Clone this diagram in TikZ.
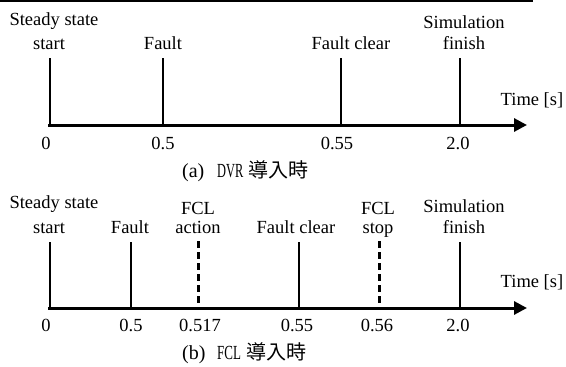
\documentclass[tikz,border=0pt]{standalone}
\usepackage{fontspec}
\setmainfont{Liberation Serif}
\newfontfamily\cjk{Noto Sans CJK JP}
\usetikzlibrary{arrows.meta}
\tikzset{
  lbl/.style={font=\fontsize{18.5}{20}\selectfont, inner sep=0pt, anchor=base},
  captext/.style={font=\fontsize{20}{22}\selectfont, inner sep=0pt, anchor=base west},
  evt/.style={line width=2pt},
  fcl/.style={line width=3pt, dash pattern=on 7pt off 4pt},
  axis/.style={line width=3pt, -{Triangle[length=13pt,width=13pt]}},
}
\begin{document}
\begin{tikzpicture}[x=1pt,y=-1pt]
\useasboundingbox (0,0) rectangle (566,367);
\draw[line width=1.2pt] (0,1) coordinate (bl) -- (533,1) coordinate (br);

% ---------- panel (a) ----------
\coordinate (aS) at (48,125);
\coordinate (aE) at (527,125);
\foreach \n/\x in {0/50,1/163,2/341,3/460}{
  \coordinate (aT\n) at (\x,58);
  \coordinate (aB\n) at (\x,125);
}
\foreach \n in {0,1,2,3}{ \draw[evt] (aT\n) -- (aB\n); }
\draw[axis] (aS) -- (aE);

\node[lbl] (aSteady) at (54,25) {Steady state};
\node[lbl] (aStart) at (49,49) {start};
\node[lbl] (aFault) at (163,49) {Fault};
\node[lbl] (aClear) at (351,49) {Fault clear};
\node[lbl] (aSim) at (464,28) {Simulation};
\node[lbl] (aFin) at (464,49) {finish};
\node[lbl] (aTime) at (532,105) {Time [s]};
\node[lbl] (at0) at (46,149) {0};
\node[lbl] (at1) at (163,149) {0.5};
\node[lbl] (at2) at (337,149) {0.55};
\node[lbl] (at3) at (458,149) {2.0};
\node[captext] (acapl) at (182,177) {(a)};
\node[captext] (acapt) at (217,177) {\scalebox{0.62}[1]{DVR}\hspace{5pt}{\cjk 導入時}};

% ---------- panel (b) ----------
\coordinate (bS) at (48,308);
\coordinate (bE) at (527,308);
\foreach \n/\x in {0/50,1/131,3/299,5/460}{
  \coordinate (bT\n) at (\x,242);
  \coordinate (bB\n) at (\x,308);
  \draw[evt] (bT\n) -- (bB\n);
}
\foreach \n/\x in {2/198,4/379}{
  \coordinate (bT\n) at (\x,241);
  \coordinate (bB\n) at (\x,308);
  \draw[fcl] (bT\n) -- (bB\n);
}
\draw[axis] (bS) -- (bE);

\node[lbl] (bSteady) at (54,208) {Steady state};
\node[lbl] (bStart) at (49,233) {start};
\node[lbl] (bFault) at (130,233) {Fault};
\node[lbl] (bFCL1) at (198,214) {FCL};
\node[lbl] (bAct) at (198,233) {action};
\node[lbl] (bClear) at (296,233) {Fault clear};
\node[lbl] (bFCL2) at (378,214) {FCL};
\node[lbl] (bStop) at (378,233) {stop};
\node[lbl] (bSim) at (464,212) {Simulation};
\node[lbl] (bFin) at (464,233) {finish};
\node[lbl] (bTime) at (532,287) {Time [s]};
\node[lbl] (bt0) at (46,331) {0};
\node[lbl] (bt1) at (131,331) {0.5};
\node[lbl] (bt2) at (200,331) {0.517};
\node[lbl] (bt3) at (297,331) {0.55};
\node[lbl] (bt4) at (377,331) {0.56};
\node[lbl] (bt5) at (458,331) {2.0};
\node[captext] (bcapl) at (182,359) {(b)};
\node[captext] (bcapt) at (217,359) {\scalebox{0.65}[1]{FCL}\hspace{5pt}{\cjk 導入時}};
\end{tikzpicture}
\end{document}
